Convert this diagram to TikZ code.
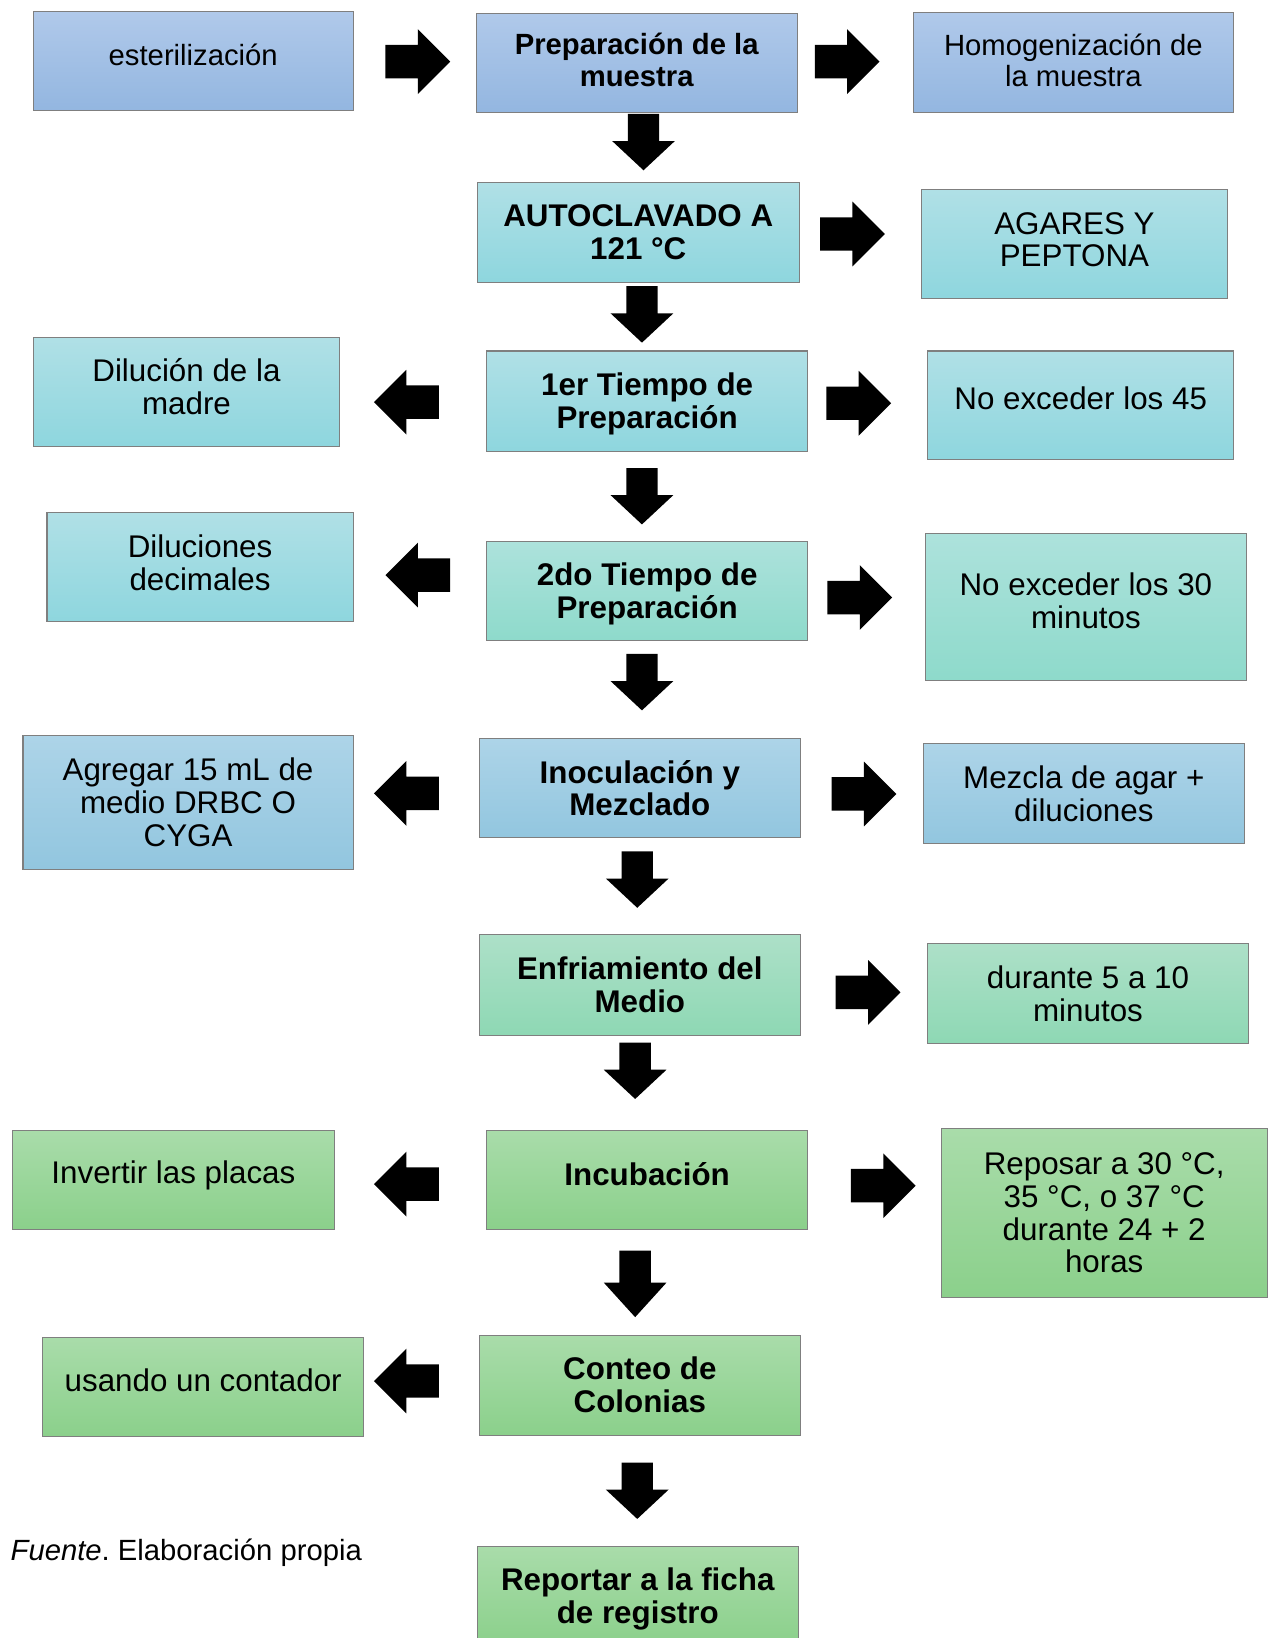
\documentclass[tikz,border=0pt]{standalone}
\usepackage{fontspec}
\setmainfont{Liberation Sans}
\usetikzlibrary{calc}
\definecolor{blueT}{HTML}{B0C9EA}\definecolor{blueB}{HTML}{93B6E0}
\definecolor{skyT}{HTML}{ADD4E8}\definecolor{skyB}{HTML}{92C6DF}
\definecolor{cyanT}{HTML}{B0E0E6}\definecolor{cyanB}{HTML}{8ED6DE}
\definecolor{tealT}{HTML}{ADE2DC}\definecolor{tealB}{HTML}{8EDACB}
\definecolor{gtealT}{HTML}{ADE0C8}\definecolor{gtealB}{HTML}{8ED8B4}
\definecolor{greenT}{HTML}{A9DCAA}\definecolor{greenB}{HTML}{8BD08B}
\definecolor{edge}{HTML}{7F7F7F}
\tikzset{
  box/.style={rectangle, draw=edge, line width=1pt, align=center, inner sep=0pt,
    font=\fontsize{30}{31.5}\selectfont, text=black},
  txt/.style={align=center, inner sep=0pt, text=black, font=\fontsize{30}{31.5}\selectfont},
  small/.style={font=\fontsize{28}{30}\selectfont},
  smallbold/.style={font=\fontsize{28}{30}\selectfont\bfseries},
  bold/.style={font=\fontsize{30}{31.5}\selectfont\bfseries},
  bluebox/.style={top color=blueT, bottom color=blueB},
  skybox/.style={top color=skyT, bottom color=skyB},
  cyanbox/.style={top color=cyanT, bottom color=cyanB},
  tealbox/.style={top color=tealT, bottom color=tealB},
  gtealbox/.style={top color=gtealT, bottom color=gtealB},
  greenbox/.style={top color=greenT, bottom color=greenB},
  sz/.style 2 args={minimum width=#1pt, minimum height=#2pt},
  rarr/.pic={\fill[black] (-31,-16) -- (0,-16) -- (0,-31) -- (31,0) -- (0,31) -- (0,16) -- (-31,16) -- cycle;},
  darr/.pic={\fill[black] (-15,-27) -- (15,-27) -- (15,-1) -- (30,-1) -- (0,27) -- (-30,-1) -- (-15,-1) -- cycle;}
}
\begin{document}
\begin{tikzpicture}[x=1pt,y=-1pt]
\clip (0,0) rectangle (1214,1568);
\fill[white] (0,0) rectangle (1214,1568);
% row 1
\node[box,bluebox,sz={306}{95}] (ester) at (185,58.5) {};
\node[txt,small] (ester-t) at ([yshift=6pt]ester.center) {esterilización};
\node[box,bluebox,sz={307}{95}] (prep) at (609.5,60.5) {};
\node[txt,smallbold] (prep-t) at ([yshift=3pt]prep.center) {Preparación de la\\muestra};
\node[box,bluebox,sz={307}{96}] (homog) at (1027.5,60) {};
\node[txt,small] (homog-t) at ([yshift=2pt]homog.center) {Homogenización de\\la muestra};
% row 2
\node[box,bold,cyanbox,sz={308}{95}] (auto) at (611,222.5) {AUTOCLAVADO A\\121 °C};
\node[box,cyanbox,sz={293}{105}] (agar) at (1028.5,233.5) {};
\node[txt] (agar-t) at ([yshift=4pt]agar.center) {AGARES Y\\PEPTONA};
% row 3
\node[box,cyanbox,sz={293}{104}] (dil) at (178.5,375) {};
\node[txt] (dil-t) at ([yshift=5pt]dil.center) {Dilución de la\\madre};
\node[box,cyanbox,sz={307}{96}] (t1) at (619.5,384) {};
\node[txt,bold] (t1-t) at ([yshift=-3pt]t1.center) {1er Tiempo de\\Preparación};
\node[box,cyanbox,sz={293}{104}] (ne45) at (1034.5,388) {};
\node[txt] (ne45-t) at ([yshift=7pt]ne45.center) {No exceder los 45};
% row 4
\node[box,cyanbox,sz={293}{104}] (dild) at (191.5,543) {};
\node[txt] (dild-t) at ([yshift=4pt]dild.center) {Diluciones\\decimales};
\node[box,tealbox,sz={307}{95}] (t2) at (619.5,565.5) {};
\node[txt,bold] (t2-t) at ([yshift=-3pt]t2.center) {2do Tiempo de\\Preparación};
\node[box,tealbox,sz={307}{140}] (ne30) at (1039.5,581) {};
\node[txt] (ne30-t) at ([yshift=6pt]ne30.center) {No exceder los 30\\minutos};
% row 5
\node[box,skybox,sz={316}{128}] (agr) at (180,768) {Agregar 15 mL de\\medio DRBC O\\CYGA};
\node[box,bold,skybox,sz={307}{95}] (inoc) at (612.5,754.5) {Inoculación y\\Mezclado};
\node[box,skybox,sz={307}{95}] (mez) at (1037.5,759.5) {Mezcla de agar +\\diluciones};
% row 6
\node[box,bold,gtealbox,sz={307}{96}] (enf) at (612.5,943) {Enfriamiento del\\Medio};
\node[box,gtealbox,sz={307}{96}] (dur) at (1041.5,951) {durante 5 a 10\\minutos};
% row 7
\node[box,greenbox,sz={308}{95}] (inv) at (166,1129.5) {};
\node[txt] (inv-t) at ([yshift=4pt]inv.center) {Invertir las placas};
\node[box,greenbox,sz={307}{95}] (inc) at (619.5,1129.5) {};
\node[txt,bold] (inc-t) at ([yshift=6pt]inc.center) {Incubación};
\node[box,greenbox,sz={312}{162}] (repo) at (1057,1161) {Reposar a 30 °C,\\35 °C, o 37 °C\\durante 24 + 2\\horas};
% row 8
\node[box,greenbox,sz={307}{95}] (usa) at (194.5,1327.5) {};
\node[txt] (usa-t) at ([yshift=6pt]usa.center) {usando un contador};
\node[box,bold,greenbox,sz={307}{96}] (con) at (612.5,1326) {Conteo de\\Colonias};
% row 9
\node[box,greenbox,sz={307}{95}] (fin) at (610.5,1527.5) {};
\node[txt,bold] (fin-t) at ([yshift=-3pt]fin.center) {Reportar a la ficha\\de registro};
\node[anchor=west,inner sep=0pt,font=\fontsize{28}{30}\selectfont] (src) at (10,1486) {\textit{Fuente}.\ Elaboración propia};
% right arrows
\pic at (400,59) {rarr};
\pic at (811,59) {rarr};
\pic at (816,224) {rarr};
\pic at (822,386) {rarr};
\pic at (823,572) {rarr};
\pic at (827,760) {rarr};
\pic at (831,950) {rarr};
\pic at (845.5,1135) {rarr};
% left arrows
\pic[xscale=-1] at (389,385) {rarr};
\pic[xscale=-1] at (400,550.5) {rarr};
\pic[xscale=-1] at (389,759.5) {rarr};
\pic[xscale=-1] at (389,1133.5) {rarr};
\pic[xscale=-1] at (389,1322) {rarr};
% down arrows
\pic at (616,136) {darr};
\pic at (614.5,301) {darr};
\pic at (614.5,475) {darr};
\pic at (614.5,653) {darr};
\pic at (610,842) {darr};
\pic at (608,1025) {darr};
\pic[yscale=1.18] at (608,1229) {darr};
\pic at (610,1427) {darr};
\end{tikzpicture}
\end{document}
